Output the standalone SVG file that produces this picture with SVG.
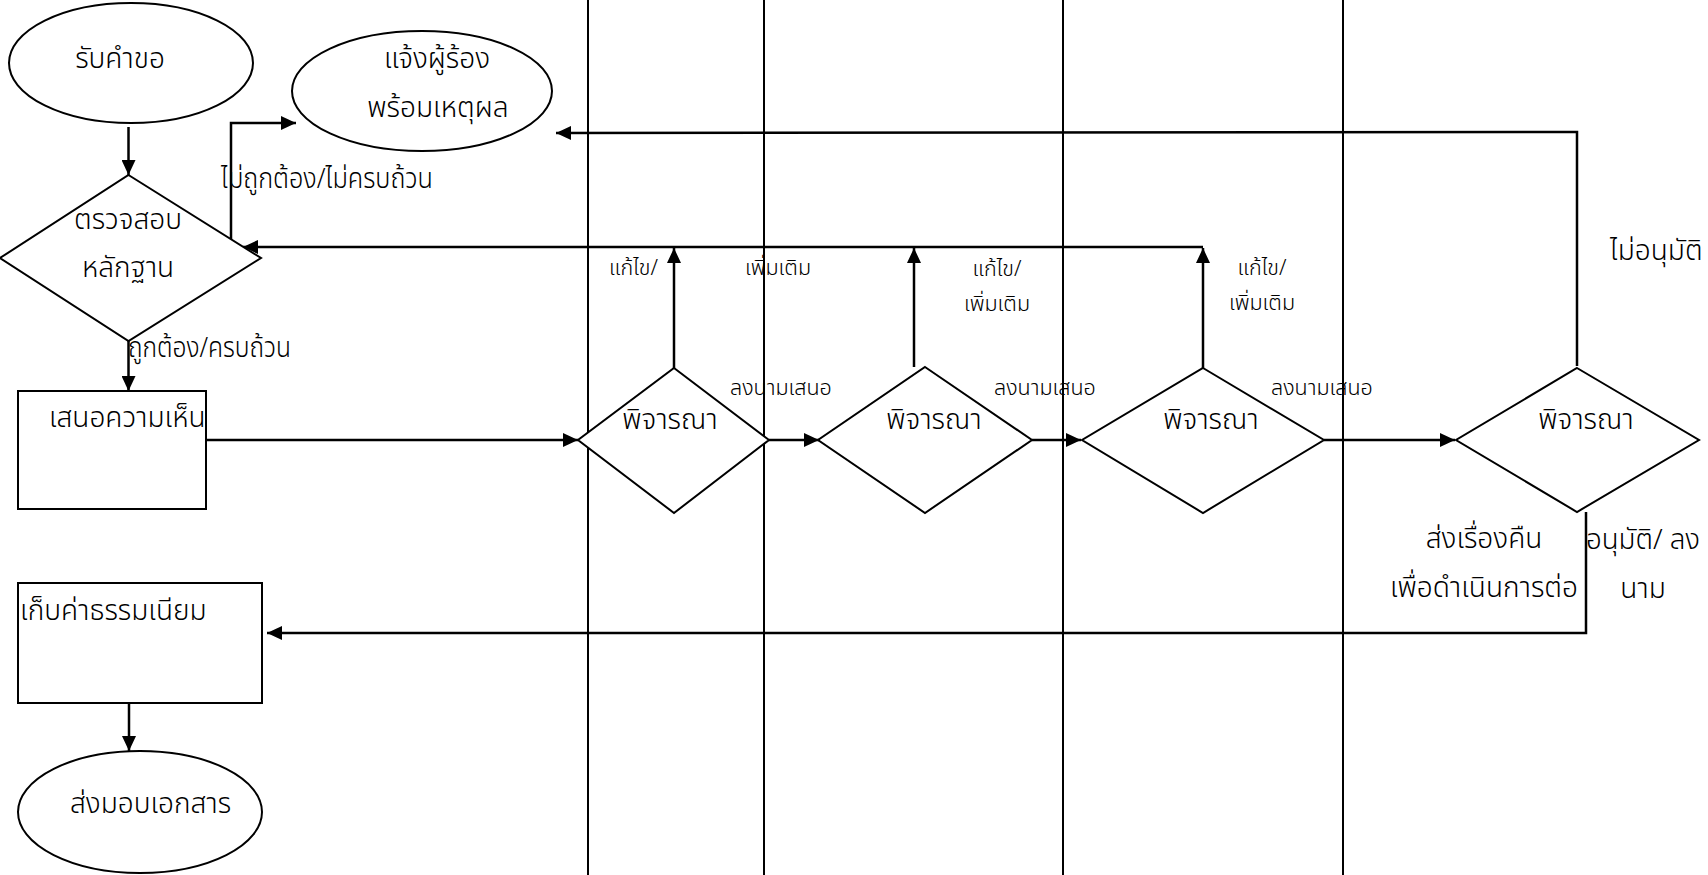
<svg xmlns="http://www.w3.org/2000/svg" width="1708" height="875" viewBox="0 0 1708 875">
  <style>
    .shape { fill: #ffffff; stroke: #000000; stroke-width: 2; }
    .lane { stroke: #000000; stroke-width: 2; fill: none; }
    .conn { stroke: #000000; stroke-width: 2.5; fill: none; }
    .arrow { marker-end: url(#head); }
    text { font-family: "Noto Sans Thai", "Noto Sans", "DejaVu Sans", sans-serif; fill: #000000; font-weight: 300; }
    .big { font-size: 28px; }
    .small { font-size: 21.5px; }
    .mid { text-anchor: middle; }
  </style>
  <defs>
    <marker id="head" markerUnits="userSpaceOnUse" markerWidth="16" markerHeight="14" refX="15" refY="7" orient="auto">
      <path d="M0,0 L15,7 L0,14 Z" fill="#000000"/>
    </marker>
  </defs>
  <rect width="1708" height="875" fill="#ffffff"/>

  <!-- swimlane dividers -->
  <g id="lanes">
    <line class="lane" x1="588" y1="0" x2="588" y2="875"/>
    <line class="lane" x1="764" y1="0" x2="764" y2="875"/>
    <line class="lane" x1="1063" y1="0" x2="1063" y2="875"/>
    <line class="lane" x1="1343" y1="0" x2="1343" y2="875"/>
  </g>

  <!-- connectors -->
  <g id="connectors">
    <line class="conn arrow" x1="128.5" y1="127" x2="128.5" y2="175"/>
    <line class="conn arrow" x1="128.5" y1="341" x2="128.5" y2="391"/>
    <polyline class="conn arrow" points="231,244 231,123 296,123"/>
    <line class="conn arrow" x1="1203" y1="247" x2="243" y2="247"/>
    <line class="conn arrow" x1="674" y1="368" x2="674" y2="248"/>
    <line class="conn arrow" x1="914" y1="367" x2="914" y2="248"/>
    <line class="conn arrow" x1="1203" y1="368" x2="1203" y2="248"/>
    <polyline class="conn arrow" points="1577,366 1577,132 556,133"/>
    <line class="conn arrow" x1="206" y1="440" x2="578" y2="440"/>
    <line class="conn arrow" x1="769" y1="440" x2="819" y2="440"/>
    <line class="conn arrow" x1="1032" y1="440" x2="1081" y2="440"/>
    <line class="conn arrow" x1="1324" y1="440" x2="1455" y2="440"/>
    <polyline class="conn arrow" points="1586,512 1586,633 267,633"/>
    <line class="conn arrow" x1="129" y1="703" x2="129" y2="751"/>
  </g>

  <!-- connector labels -->
  <g id="labels">
    <text class="big" x="221" y="188" textLength="212" lengthAdjust="spacingAndGlyphs">ไม่ถูกต้อง/ไม่ครบถ้วน</text>
    <text class="big" x="128" y="357" textLength="163" lengthAdjust="spacingAndGlyphs">ถูกต้อง/ครบถ้วน</text>
    <text class="small" x="609" y="275">แก้ไข/</text>
    <text class="small" x="745" y="275">เพิ่มเติม</text>
    <text class="small mid" x="997" y="276">แก้ไข/</text>
    <text class="small mid" x="997" y="311">เพิ่มเติม</text>
    <text class="small mid" x="1262" y="275">แก้ไข/</text>
    <text class="small mid" x="1262" y="310">เพิ่มเติม</text>
    <text class="small" x="730" y="395">ลงนามเสนอ</text>
    <text class="small" x="994" y="395">ลงนามเสนอ</text>
    <text class="small" x="1271" y="395">ลงนามเสนอ</text>
    <text class="big" x="1610" y="260">ไม่อนุมัติ</text>
    <text class="big mid" x="1484" y="548">ส่งเรื่องคืน</text>
    <text class="big mid" x="1484" y="597">เพื่อดำเนินการต่อ</text>
    <text class="big" x="1586" y="549" textLength="114" lengthAdjust="spacingAndGlyphs">อนุมัติ/ ลง</text>
    <text class="big mid" x="1643" y="598">นาม</text>
  </g>

  <g id="receive">
    <ellipse class="shape" cx="131" cy="63" rx="122" ry="60"/>
    <text class="big mid" x="120" y="68">รับคำขอ</text>
  </g>

  <g id="notify">
    <ellipse class="shape" cx="422" cy="91" rx="130" ry="60"/>
    <text class="big mid" x="437" y="68">แจ้งผู้ร้อง</text>
    <text class="big mid" x="438" y="117">พร้อมเหตุผล</text>
  </g>

  <g id="check">
    <polygon class="shape" points="128.5,175 261,258 128.5,341 0,258"/>
    <text class="big mid" x="128" y="229">ตรวจสอบ</text>
    <text class="big mid" x="128" y="277">หลักฐาน</text>
  </g>

  <g id="opinion">
    <rect class="shape" x="18" y="391" width="188" height="118"/>
    <text class="big" x="49" y="427">เสนอความเห็น</text>
  </g>

  <g id="review1">
    <polygon class="shape" points="674,368 769,440 674,513 578,440"/>
    <text class="big mid" x="670" y="429">พิจารณา</text>
  </g>

  <g id="review2">
    <polygon class="shape" points="925,367 1032,440 925,513 818,440"/>
    <text class="big mid" x="934" y="429">พิจารณา</text>
  </g>

  <g id="review3">
    <polygon class="shape" points="1203,368 1324,440 1203,513 1082,440"/>
    <text class="big mid" x="1211" y="429">พิจารณา</text>
  </g>

  <g id="review4">
    <polygon class="shape" points="1577,368 1699,440 1577,512 1456,440"/>
    <text class="big mid" x="1586" y="429">พิจารณา</text>
  </g>

  <g id="fee">
    <rect class="shape" x="18" y="583" width="244" height="120"/>
    <text class="big" x="20" y="620">เก็บค่าธรรมเนียม</text>
  </g>

  <g id="deliver">
    <ellipse class="shape" cx="140" cy="812" rx="122" ry="61"/>
    <text class="big" x="70" y="813">ส่งมอบเอกสาร</text>
  </g>
</svg>
